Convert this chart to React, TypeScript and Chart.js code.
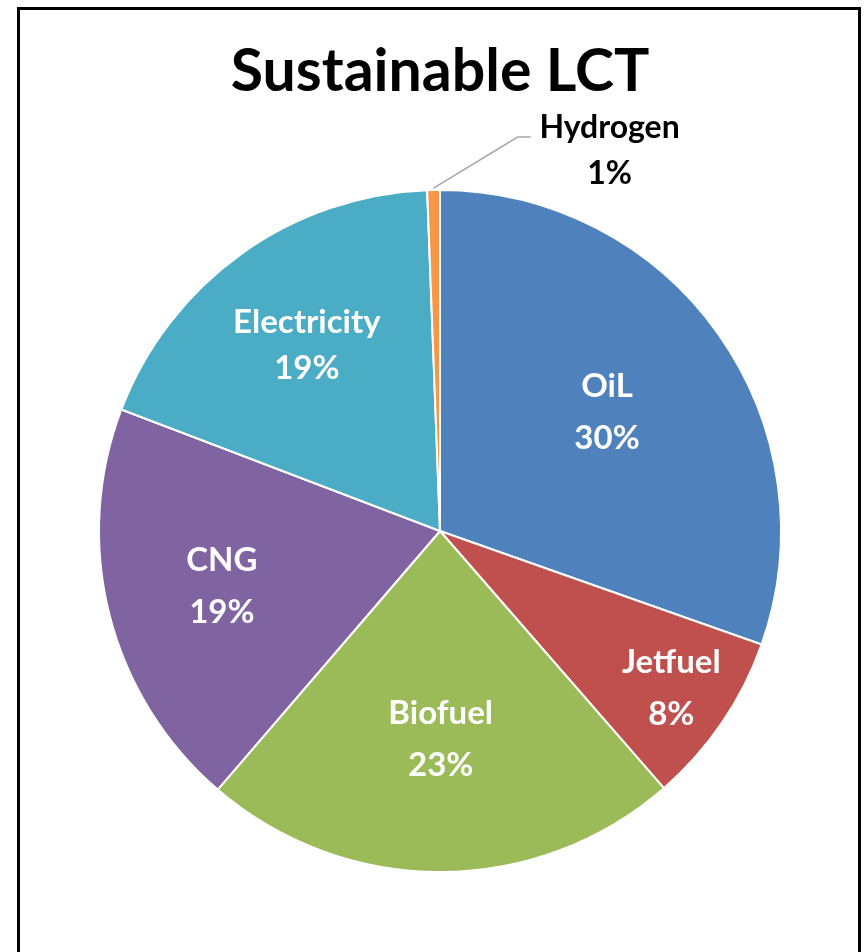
import React, { useEffect, useRef } from "react";
import { Chart, registerables } from "chart.js";

Chart.register(...registerables);

const TITLE = "Sustainable LCT";
const categories = ["OiL", "Jetfuel", "Biofuel", "CNG", "Electricity", "Hydrogen"];
const values = [30.4, 8.2, 22.7, 19.5, 18.6, 0.6];
const percentLabels = ["30%", "8%", "23%", "19%", "19%", "1%"];
const colors = ["#4F81BD", "#C0504D", "#9BBB59", "#8064A2", "#4BACC6", "#F79646"];
// fraction of the radius at which each inside label sits (Excel best-fit)
const labelRadius = [0.6, 0.82, 0.61, 0.66, 0.67, 0];

const FONT = "Lato, 'Open Sans', sans-serif";

const labelPlugin = {
  id: "pieLabels",
  afterDraw(chart: any) {
    const ctx = chart.ctx;
    const meta = chart.getDatasetMeta(0);
    ctx.save();
    // title
    ctx.fillStyle = "#000";
    ctx.textAlign = "center";
    ctx.textBaseline = "alphabetic";
    ctx.font = `bold 59px ${FONT}`;
    ctx.fillText(TITLE, 440, 91);

    meta.data.forEach((arc: any, i: number) => {
      const { x, y, startAngle, endAngle, outerRadius } = arc.getProps(
        ["x", "y", "startAngle", "endAngle", "outerRadius"],
        true
      );
      const mid = (startAngle + endAngle) / 2;
      if (i === categories.length - 1) {
        // outside label with leader line
        const px = x + Math.cos(mid) * outerRadius;
        const py = y + Math.sin(mid) * outerRadius;
        ctx.strokeStyle = "#A6A6A6";
        ctx.lineWidth = 1.5;
        ctx.beginPath();
        ctx.moveTo(px, py - 2);
        ctx.lineTo(px + 84, py - 53);
        ctx.lineTo(px + 97, py - 53);
        ctx.stroke();
        ctx.fillStyle = "#000";
        ctx.font = `bold 32px ${FONT}`;
        ctx.textBaseline = "middle";
        ctx.fillText(categories[i], px + 176, py - 62);
        ctx.fillText(percentLabels[i], px + 176, py - 16);
        return;
      }
      const r = outerRadius * labelRadius[i];
      const lx = x + Math.cos(mid) * r;
      const ly = y + Math.sin(mid) * r;
      ctx.fillStyle = "#FFFFFF";
      ctx.font = `bold 33px ${FONT}`;
      ctx.textBaseline = "middle";
      const gap = i === 4 ? 23 : 26;
      ctx.fillText(categories[i], lx, ly - gap);
      ctx.fillText(percentLabels[i], lx, ly + gap);
    });
    ctx.restore();
  },
};

export default function App() {
  const ref = useRef<HTMLCanvasElement>(null);
  useEffect(() => {
    if (!ref.current) return;
    const chart = new Chart(ref.current, {
      type: "pie",
      data: {
        labels: categories,
        datasets: [
          {
            data: values,
            backgroundColor: colors,
            borderColor: "#FFFFFF",
            borderWidth: 2,
          },
        ],
      },
      options: {
        animation: false,
        responsive: false,
        events: [],
        layout: { padding: { left: 98, right: 86, top: 189, bottom: 79 } },
        plugins: {
          legend: { display: false },
          tooltip: { enabled: false },
          title: { display: false },
        },
      },
      plugins: [labelPlugin],
    });
    return () => chart.destroy();
  }, []);
  return (
    <div
      style={{
        position: "absolute",
        left: 0,
        top: 0,
        width: 868,
        height: 952,
        background: "#fff",
        overflow: "hidden",
      }}
    >
      <div
        style={{
          position: "absolute",
          left: 17,
          top: 7,
          width: 844,
          height: 960,
          border: "3px solid #000",
          boxSizing: "border-box",
        }}
      />
      <canvas
        ref={ref}
        width={868}
        height={952}
        style={{ position: "absolute", left: 0, top: 0 }}
      />
    </div>
  );
}
